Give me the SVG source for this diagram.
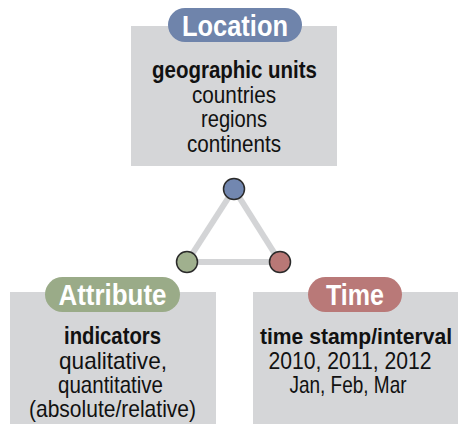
<svg xmlns="http://www.w3.org/2000/svg" width="458" height="424" viewBox="0 0 458 424">
  <style>
    .box { fill: #d5d6d8; }
    .pill-label { font-family: "Liberation Sans", Arial, sans-serif; font-weight: bold; font-size: 29px; fill: #ffffff; text-anchor: middle; }
    .hd { font-family: "Liberation Sans", Arial, sans-serif; font-weight: bold; font-size: 24px; fill: #111111; text-anchor: middle; }
    .tx { font-family: "Liberation Sans", Arial, sans-serif; font-size: 24px; fill: #111111; text-anchor: middle; }
    .link { stroke: #d3d4d6; stroke-width: 6; fill: none; }
    .dot { stroke: #2a2a2a; stroke-width: 1.5; }
  </style>
  <rect width="458" height="424" fill="#ffffff"/>

  <g id="connectors">
    <line class="link" x1="234" y1="189" x2="187" y2="262"/>
    <line class="link" x1="234" y1="189" x2="280" y2="262"/>
    <line class="link" x1="187" y1="262" x2="280" y2="262"/>
  </g>

  <g id="location">
    <rect class="box" x="131" y="26" width="206" height="140"/>
    <rect x="168" y="8" width="134" height="34" rx="17" fill="#6f84ab"/>
    <text class="pill-label" x="235" y="35.5" textLength="106" lengthAdjust="spacingAndGlyphs">Location</text>
    <text class="hd" x="234.5" y="78" textLength="165" lengthAdjust="spacingAndGlyphs">geographic units</text>
    <text class="tx" x="234" y="102.5" textLength="84" lengthAdjust="spacingAndGlyphs">countries</text>
    <text class="tx" x="234" y="127" textLength="66" lengthAdjust="spacingAndGlyphs">regions</text>
    <text class="tx" x="234" y="151.5" textLength="94" lengthAdjust="spacingAndGlyphs">continents</text>
  </g>

  <g id="location-dot">
    <circle class="dot" cx="234" cy="189" r="10.5" fill="#7287b0"/>
  </g>
  <g id="attribute-dot">
    <circle class="dot" cx="187" cy="262" r="10.5" fill="#a0b08e"/>
  </g>
  <g id="time-dot">
    <circle class="dot" cx="280" cy="262" r="10.5" fill="#b97876"/>
  </g>

  <g id="attribute">
    <rect class="box" x="10" y="292" width="206" height="132"/>
    <rect x="45" y="277" width="135" height="35" rx="17.5" fill="#9aab88"/>
    <text class="pill-label" x="112.5" y="305" textLength="108" lengthAdjust="spacingAndGlyphs">Attribute</text>
    <text class="hd" x="112.5" y="344" textLength="97" lengthAdjust="spacingAndGlyphs">indicators</text>
    <text class="tx" x="113" y="368.5" textLength="108" lengthAdjust="spacingAndGlyphs">qualitative,</text>
    <text class="tx" x="110.5" y="392.5" textLength="105" lengthAdjust="spacingAndGlyphs">quantitative</text>
    <text class="tx" x="112.5" y="417" textLength="167" lengthAdjust="spacingAndGlyphs">(absolute/relative)</text>
  </g>

  <g id="time">
    <rect class="box" x="253" y="292" width="205" height="132"/>
    <rect x="308" y="277" width="94" height="35" rx="17.5" fill="#b97978"/>
    <text class="pill-label" x="355" y="305" textLength="58" lengthAdjust="spacingAndGlyphs">Time</text>
    <text class="hd" x="356" y="344" style="font-size:22px" textLength="192" lengthAdjust="spacingAndGlyphs">time stamp/interval</text>
    <text class="tx" x="350" y="368.5" textLength="163" lengthAdjust="spacingAndGlyphs">2010, 2011, 2012</text>
    <text class="tx" x="348" y="392.5" textLength="117" lengthAdjust="spacingAndGlyphs">Jan, Feb, Mar</text>
  </g>
</svg>
